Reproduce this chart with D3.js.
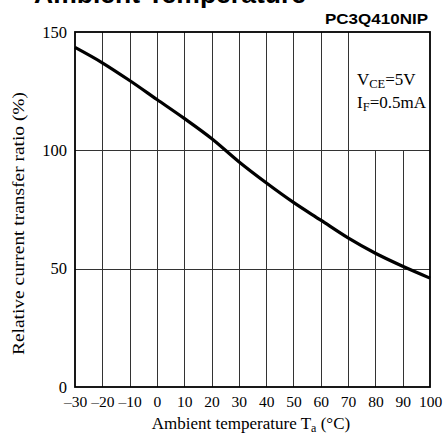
<!DOCTYPE html>
<html><head><meta charset="utf-8">
<script src="https://cdn.jsdelivr.net/npm/d3@7"></script>
<style>body{margin:0;background:#fff;}svg{display:block;}</style>
</head><body>
<script>
const temps = [-30,-20,-10,0,10,20,30,40,50,60,70,80,90,100];
const ratio = [143.5,137,129.5,121.5,113.5,105,95.2,86.3,78,70.5,63,56.5,51,46];
const xTicks = [-30,-20,-10,0,10,20,30,40,50,60,70,80,90,100];
const yTicks = [0,50,100,150];
const title = "Ambient Temperature";
const model = "PC3Q410NIP";

const W=443,H=436;
const svg=d3.select("body").append("svg").attr("width",W).attr("height",H);
const x=d3.scaleLinear().domain([-30,100]).range([75,430]);
const y=d3.scaleLinear().domain([0,150]).range([387,32]);

// title (cut off at top)
svg.append("text").attr("x",170).attr("y",3).attr("text-anchor","middle")
  .attr("font-family","Liberation Sans, Arial, sans-serif").attr("font-weight","bold")
  .attr("font-size",26.5).text(title);
svg.append("text").attr("x",428).attr("y",23.5).attr("text-anchor","end")
  .attr("font-family","Liberation Sans, Arial, sans-serif").attr("font-weight","bold")
  .attr("font-size",14).attr("textLength",103).attr("lengthAdjust","spacingAndGlyphs").text(model);

const grid=svg.append("g").attr("stroke","#333").attr("stroke-width",1);
// vertical gridlines
xTicks.filter(t=>t>-30&&t<100).forEach(t=>{
  const top = t>=80 ? y(100) : y(150);
  grid.append("line").attr("x1",Math.round(x(t))+0.5).attr("x2",Math.round(x(t))+0.5)
    .attr("y1",top).attr("y2",y(0));
});
yTicks.filter(v=>v>0&&v<150).forEach(v=>{
  grid.append("line").attr("x1",x(-30)).attr("x2",x(100))
    .attr("y1",Math.round(y(v))+0.5).attr("y2",Math.round(y(v))+0.5);
});
// frame
svg.append("rect").attr("x",x(-30)).attr("y",y(150)).attr("width",x(100)-x(-30)).attr("height",y(0)-y(150))
  .attr("fill","none").attr("stroke","#000").attr("stroke-width",1.8);

// curve
const line=d3.line().x((d,i)=>x(temps[i])).y(d=>y(d)).curve(d3.curveMonotoneX);
svg.append("path").datum(ratio).attr("d",line).attr("fill","none").attr("stroke","#000").attr("stroke-width",3.2);

const serif="Liberation Serif, Times New Roman, serif";
// y ticks
const yAxis=d3.axisLeft(y).tickValues(yTicks).tickSize(0).tickPadding(8).tickFormat(d3.format("d"));
const ga=svg.append("g").attr("transform",`translate(${x(-30)},0)`).call(yAxis);
ga.select(".domain").remove();
ga.selectAll("text").attr("font-family",serif).attr("font-size",16.5).attr("fill","#000");
// x ticks
const xAxis=d3.axisBottom(x).tickValues(xTicks).tickSize(0).tickPadding(9)
  .tickFormat(d=>d<0?"\u2013"+Math.abs(d):String(d));
const gx=svg.append("g").attr("transform",`translate(0,${y(0)})`).call(xAxis);
gx.select(".domain").remove();
gx.selectAll("text").attr("font-family",serif).attr("font-size",15.5).attr("fill","#000");

// x title
const xt=svg.append("text").attr("x",251).attr("y",429).attr("text-anchor","middle")
  .attr("font-family",serif).attr("font-size",17).attr("fill","#000");
xt.append("tspan").text("Ambient temperature T");
xt.append("tspan").attr("font-size",12).attr("dy",3).text("a");
xt.append("tspan").attr("dy",-3).text(" (\u00B0C)");

// y title
svg.append("text").attr("transform","translate(23.5,223.5) rotate(-90)").attr("text-anchor","middle")
  .attr("font-family",serif).attr("font-size",17).attr("fill","#000")
  .attr("textLength",263).attr("lengthAdjust","spacingAndGlyphs")
  .text("Relative current transfer ratio (%)");

// conditions
const c1=svg.append("text").attr("x",357).attr("y",85).attr("font-family",serif).attr("font-size",17);
c1.append("tspan").text("V");
c1.append("tspan").attr("font-size",12.5).attr("dy",2.5).text("CE");
c1.append("tspan").attr("dy",-2.5).text("=5V");
const c2=svg.append("text").attr("x",357).attr("y",108).attr("font-family",serif).attr("font-size",17);
c2.append("tspan").text("I");
c2.append("tspan").attr("font-size",12.5).attr("dy",2.5).text("F");
c2.append("tspan").attr("dy",-2.5).text("=0.5mA");
</script>
</body></html>
